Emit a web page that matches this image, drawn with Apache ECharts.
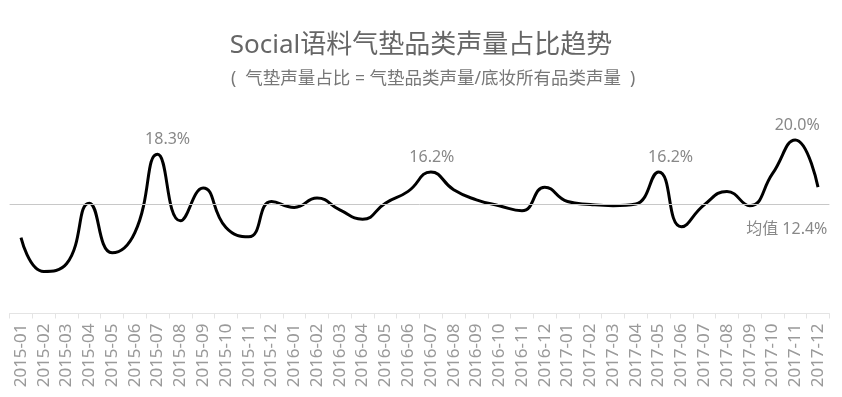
<!DOCTYPE html>
<html><head><meta charset="utf-8">
<script src="https://cdn.jsdelivr.net/npm/echarts@6/dist/echarts.min.js"></script>
<style>html,body{margin:0;padding:0;background:#fff}#c{width:842px;height:397px}</style>
</head><body><div id="c"></div>
<script>
const months = ['2015-01','2015-02','2015-03','2015-04','2015-05','2015-06','2015-07','2015-08','2015-09','2015-10','2015-11','2015-12',
  '2016-01','2016-02','2016-03','2016-04','2016-05','2016-06','2016-07','2016-08','2016-09','2016-10','2016-11','2016-12',
  '2017-01','2017-02','2017-03','2017-04','2017-05','2017-06','2017-07','2017-08','2017-09','2017-10','2017-11','2017-12'];
const share = [8.4, 4.4, 5.3, 12.5, 6.6, 9.0, 18.3, 10.4, 14.3, 9.6, 8.5, 12.7,
  12.0, 13.1, 11.7, 10.6, 12.5, 13.9, 16.2, 14.1, 12.9, 12.2, 11.6, 14.4,
  12.7, 12.35, 12.2, 12.4, 16.2, 9.7, 12.3, 13.9, 12.2, 16.0, 20.0, 14.4];
const averageShare = 12.4;
const peakMonths = ['2015-07', '2016-07', '2017-05', '2017-11'];
const titleText = 'Social语料气垫品类声量占比趋势';
const subtitleText = '(  气垫声量占比 = 气垫品类声量/底妆所有品类声量  )';

// label nudges (style only)
const peakOffsets = {'2015-07': [10, 0], '2016-07': [1, 0], '2017-05': [12, 0], '2017-11': [2, 0]};

const FONT = '"Noto Sans", "Noto Sans CJK SC", sans-serif';
const chart = echarts.init(document.getElementById('c'), null, {renderer: 'canvas'});
chart.setOption({
  animation: false,
  title: [{
    text: titleText,
    left: 'center',
    top: 28,
    textStyle: {fontFamily: FONT, fontSize: 26, fontWeight: 'normal', color: '#666'}
  }, {
    text: subtitleText,
    left: 226,
    top: 65,
    textStyle: {fontFamily: FONT, fontSize: 17.5, fontWeight: 'normal', color: '#777'}
  }],
  grid: {left: 9.6, right: 12.6, top: 97.9, bottom: 83.5},
  xAxis: {
    type: 'category',
    data: months,
    boundaryGap: true,
    axisLine: {onZero: false, lineStyle: {color: '#e4e4e4', width: 1}},
    axisTick: {show: true, length: 5, lineStyle: {color: '#e4e4e4'}},
    axisLabel: {rotate: 90, interval: 0, margin: 10, fontFamily: FONT, fontSize: 17, color: '#9a9a9a'}
  },
  yAxis: {
    type: 'value', min: -0.6, max: 25, show: false, splitLine: {show: false}
  },
  series: [{
    type: 'line',
    data: share,
    smooth: 0.5,
    showSymbol: false,
    symbol: 'none',
    lineStyle: {color: '#000', width: 3},
    markLine: {
      silent: true,
      symbol: 'none',
      data: [{yAxis: averageShare}],
      lineStyle: {color: '#c8c8c8', width: 1, type: 'solid'},
      label: {
        position: 'insideEndBottom',
        distance: [2, 17],
        formatter: '均值 ' + averageShare.toFixed(1) + '%',
        fontFamily: FONT, fontSize: 16, color: '#888'
      }
    },
    markPoint: {
      silent: true,
      symbol: 'circle',
      symbolSize: 1,
      itemStyle: {color: 'rgba(0,0,0,0)'},
      data: peakMonths.map(m => {
        const v = share[months.indexOf(m)];
        return {
          coord: [m, v], value: v,
          label: {offset: peakOffsets[m]}
        };
      }),
      label: {
        show: true, position: 'top', distance: 6,
        formatter: p => p.value.toFixed(1) + '%',
        fontFamily: FONT, fontSize: 16, color: '#888'
      }
    }
  }]
});
</script>
</body></html>
